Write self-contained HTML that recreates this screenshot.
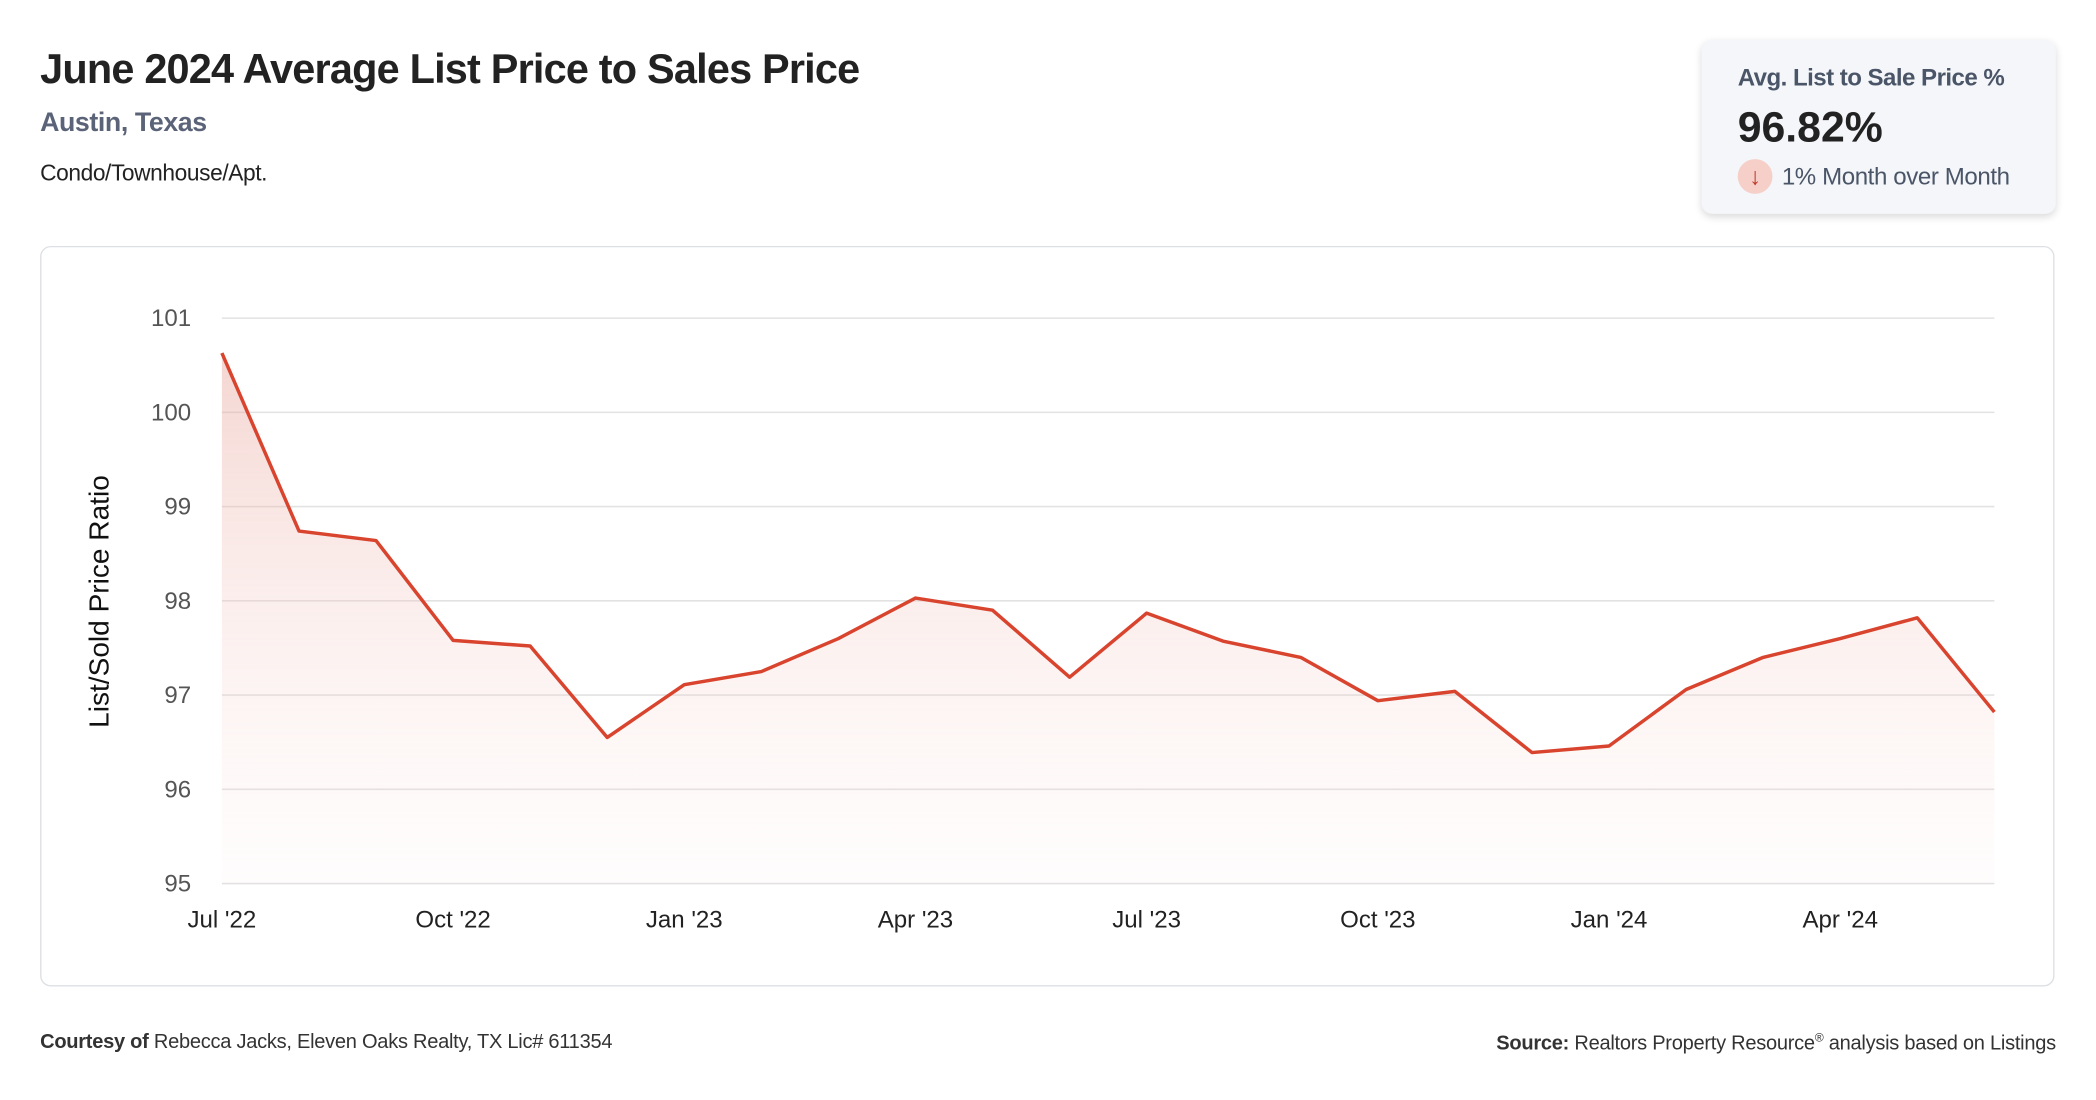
<!DOCTYPE html>
<html><head><meta charset="utf-8">
<style>
html,body{margin:0;padding:0;background:#fff;}
body{width:2096px;height:1100px;overflow:hidden;font-family:"Liberation Sans",sans-serif;}
#root{position:absolute;left:0;top:0;width:1568px;height:823px;transform:scale(1.3367);transform-origin:0 0;}
.abs{position:absolute;white-space:nowrap;}
</style></head><body>
<div id="root">
<div class="abs" style="left:30px;top:34px;font-size:31px;font-weight:bold;color:#222;letter-spacing:-0.6px;">June 2024 Average List Price to Sales Price</div>
<div class="abs" style="left:30px;top:81px;font-size:20px;font-weight:bold;color:#5a6378;letter-spacing:-0.3px;">Austin, Texas</div>
<div class="abs" style="left:30px;top:120px;font-size:17px;color:#222;letter-spacing:-0.3px;">Condo/Townhouse/Apt.</div>

<div class="abs" style="left:1273px;top:30px;width:265px;height:130px;background:#f4f6f9;border-radius:8px;box-shadow:0 2px 6px rgba(0,0,0,0.15);">
 <div class="abs" style="left:27px;top:18px;font-size:18px;font-weight:bold;color:#4a5568;letter-spacing:-0.4px;">Avg. List to Sale Price %</div>
 <div class="abs" style="left:27px;top:47px;font-size:32px;font-weight:bold;color:#222;">96.82%</div>
 <div class="abs" style="left:27px;top:89px;width:26px;height:26px;border-radius:13px;background:#f5cfc8;color:#c0392b;font-size:18px;text-align:center;line-height:26px;">↓</div>
 <div class="abs" style="left:60px;top:92px;font-size:18px;color:#4a5568;letter-spacing:-0.3px;">1% Month over Month</div>
</div>

<div class="abs" style="left:30px;top:184px;width:1505px;height:552px;border:1px solid #dcdfe4;border-radius:8px;"></div>
<svg class="abs" style="left:0;top:0" width="1568" height="823">
<defs><linearGradient id="fillg" x1="0" y1="0" x2="0" y2="1">
<stop offset="0" stop-color="#e8a49a" stop-opacity="0.45"/>
<stop offset="1" stop-color="#fbe9e6" stop-opacity="0.1"/></linearGradient></defs>
<g id="grid"></g><g id="area"></g><g id="line"></g><g id="ylab"></g><g id="xlab"></g>
<text transform="translate(81,450) rotate(-90)" text-anchor="middle" font-size="21" fill="#111" font-family="Liberation Sans, sans-serif">List/Sold Price Ratio</text>
</svg>

<div class="abs" style="left:30px;top:771px;font-size:15px;color:#333;letter-spacing:-0.2px;"><b>Courtesy of</b> Rebecca Jacks, Eleven Oaks Realty, TX Lic# 611354</div>
<div class="abs" style="right:30px;top:771px;font-size:15px;color:#333;letter-spacing:-0.2px;"><b>Source:</b> Realtors Property Resource<sup style="font-size:9px">®</sup> analysis based on Listings</div>
</div>
<script>
const months = ["Jul '22","Aug '22","Sep '22","Oct '22","Nov '22","Dec '22","Jan '23","Feb '23","Mar '23","Apr '23","May '23","Jun '23","Jul '23","Aug '23","Sep '23","Oct '23","Nov '23","Dec '23","Jan '24","Feb '24","Mar '24","Apr '24","May '24","Jun '24"];
const values = [100.63,98.74,98.64,97.58,97.52,96.55,97.11,97.25,97.60,98.03,97.90,97.19,97.87,97.57,97.40,96.94,97.04,96.39,96.46,97.06,97.40,97.60,97.82,96.82];
const yTicks = [95,96,97,98,99,100,101];
const xTickIdx = [0,3,6,9,12,15,18,21];
const NS="http://www.w3.org/2000/svg";
const x0=166,x1=1492,yTop=238,yBot=661,yMin=95,yMax=101;
function xs(i){return x0+(x1-x0)*i/(months.length-1);}
function ys(v){return yBot-(v-yMin)/(yMax-yMin)*(yBot-yTop);}
function mk(tag,attrs,parent){const e=document.createElementNS(NS,tag);for(const k in attrs)e.setAttribute(k,attrs[k]);document.getElementById(parent).appendChild(e);return e;}
yTicks.forEach(t=>{
 const l=mk('line',{x1:x0,x2:x1,y1:ys(t),y2:ys(t),stroke:'#e2e2e2','stroke-width':1.2},'grid');
 
 
 const tx=mk('text',{x:143,y:ys(t)+6,'text-anchor':'end','font-size':18,fill:'#555','font-family':'Liberation Sans, sans-serif'},'ylab');
 tx.textContent=t;
 
 
});
xTickIdx.forEach(i=>{
 const tx=mk('text',{x:xs(i),y:694,'text-anchor':'middle','font-size':18,fill:'#222','font-family':'Liberation Sans, sans-serif'},'xlab');
 tx.textContent=months[i];
 
 
});
let d=values.map((v,i)=>(i?'L':'M')+xs(i).toFixed(1)+','+ys(v).toFixed(1)).join(' ');
const a=mk('path',{d:d+` L${x1},${yBot} L${x0},${yBot} Z`,fill:'url(#fillg)'},'area');


const p=mk('path',{d:d,fill:'none',stroke:'#d9442e','stroke-width':2.6,'stroke-linejoin':'round'},'line');


</script>
</body></html>
